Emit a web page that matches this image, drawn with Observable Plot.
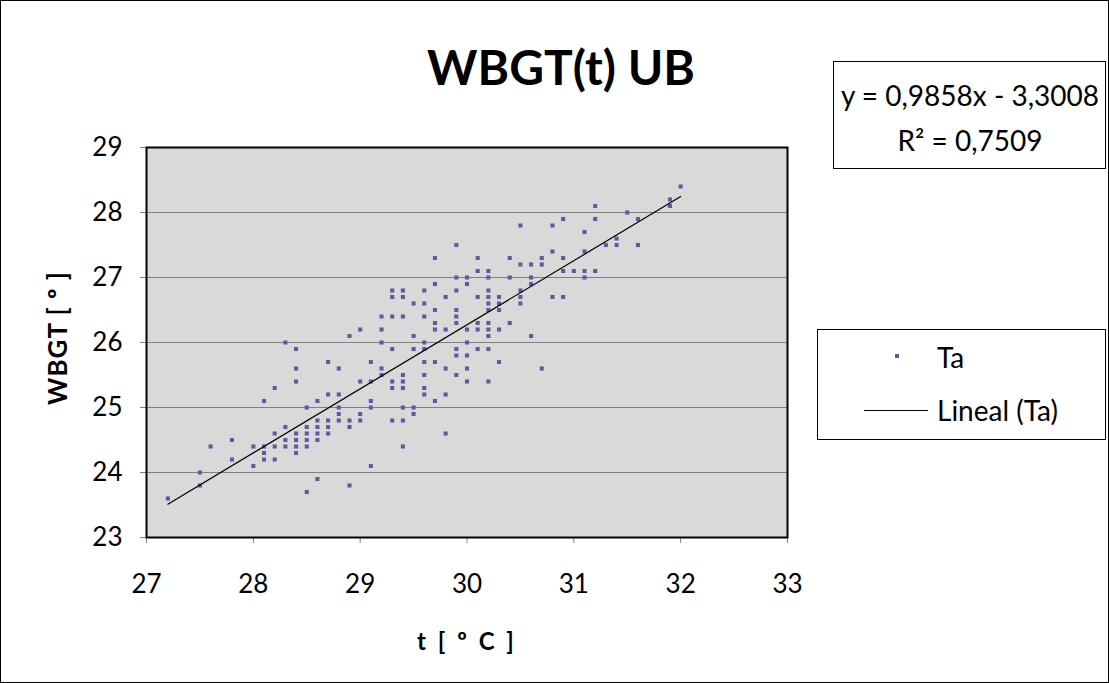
<!DOCTYPE html>
<html>
<head>
<meta charset="utf-8">
<script src="https://cdn.jsdelivr.net/npm/d3@7"></script>
<script src="https://cdn.jsdelivr.net/npm/@observablehq/plot@0.6"></script>
<style>
  html, body { margin: 0; padding: 0; background: #fff; }
  svg { display: block; }
</style>
</head>
<body>
<div id="chart"></div>
<script>
// Data: t [ºC] and WBGT [º]
const tValues = [
  27.2, 27.5, 27.5, 27.6, 27.8, 27.8, 28.0, 28.0,
  28.1, 28.1, 28.1, 28.1, 28.2, 28.2, 28.2, 28.2,
  28.3, 28.3, 28.3, 28.3, 28.4, 28.4, 28.4, 28.4, 28.4, 28.4, 28.4,
  28.5, 28.5, 28.5, 28.5, 28.5, 28.5,
  28.6, 28.6, 28.6, 28.6, 28.6, 28.6,
  28.7, 28.7, 28.7, 28.7, 28.7,
  28.8, 28.8, 28.8, 28.8, 28.8,
  28.9, 28.9, 28.9, 28.9,
  29.0, 29.0, 29.0, 29.0,
  29.1, 29.1, 29.1, 29.1, 29.1,
  29.2, 29.2, 29.2, 29.2, 29.2,
  29.3, 29.3, 29.3, 29.3, 29.3, 29.3, 29.3,
  29.4, 29.4, 29.4, 29.4, 29.4, 29.4, 29.4, 29.4, 29.4,
  29.5, 29.5, 29.5, 29.5, 29.5,
  29.6, 29.6, 29.6, 29.6, 29.6, 29.6, 29.6, 29.6, 29.6,
  29.7, 29.7, 29.7, 29.7, 29.7, 29.7, 29.7,
  29.8, 29.8, 29.8, 29.8, 29.8,
  29.9, 29.9, 29.9, 29.9, 29.9, 29.9, 29.9, 29.9, 29.9,
  30.0, 30.0, 30.0, 30.0, 30.0, 30.0, 30.0,
  30.1, 30.1, 30.1, 30.1, 30.1, 30.1,
  30.2, 30.2, 30.2, 30.2, 30.2, 30.2, 30.2, 30.2, 30.2, 30.2, 30.2,
  30.3, 30.3, 30.3, 30.3, 30.3,
  30.4, 30.4, 30.4,
  30.5, 30.5, 30.5, 30.5, 30.5,
  30.6, 30.6, 30.6, 30.6,
  30.7, 30.7, 30.7,
  30.8, 30.8, 30.8,
  30.9, 30.9, 30.9, 30.9,
  31.0,
  31.1, 31.1, 31.1, 31.1,
  31.2, 31.2, 31.2,
  31.3,
  31.4, 31.4,
  31.5,
  31.6, 31.6,
  31.9, 31.9,
  32.0
];
const wbgtValues = [
  23.6, 24.0, 23.8, 24.4, 24.5, 24.2, 24.4, 24.1,
  25.1, 24.4, 24.3, 24.2, 25.3, 24.6, 24.4, 24.2,
  26.0, 24.7, 24.5, 24.4, 25.9, 25.6, 25.4, 24.6, 24.5, 24.4, 24.3,
  25.0, 24.7, 24.6, 24.5, 24.4, 23.7,
  25.1, 24.8, 24.7, 24.6, 24.5, 23.9,
  25.7, 25.2, 24.8, 24.7, 24.6,
  25.6, 25.2, 25.0, 24.9, 24.8,
  26.1, 24.8, 24.7, 23.8,
  26.2, 25.4, 24.9, 24.8,
  25.7, 25.4, 25.1, 25.0, 24.1,
  26.4, 26.2, 26.0, 25.6, 25.5,
  26.8, 26.7, 26.4, 25.9, 25.4, 25.3, 24.8,
  26.8, 26.7, 26.4, 25.5, 25.4, 25.3, 25.0, 24.8, 24.4,
  26.6, 26.1, 25.9, 25.0, 24.9,
  26.8, 26.6, 26.4, 26.0, 25.9, 25.7, 25.5, 25.3, 25.2,
  27.3, 26.9, 26.5, 26.3, 26.2, 25.7, 25.1,
  26.7, 26.2, 25.6, 25.2, 24.6,
  27.5, 27.0, 26.8, 26.5, 26.4, 26.3, 25.9, 25.8, 25.5,
  27.0, 26.9, 26.2, 26.0, 25.8, 25.6, 25.4,
  27.3, 27.1, 26.7, 26.3, 26.2, 25.9,
  27.1, 27.0, 26.8, 26.7, 26.6, 26.5, 26.3, 26.2, 26.1, 25.9, 25.4,
  26.7, 26.6, 26.5, 26.2, 25.7,
  27.3, 27.0, 26.3,
  27.8, 27.2, 26.8, 26.7, 26.6,
  27.2, 27.0, 26.9, 26.1,
  27.3, 27.2, 25.6,
  27.8, 27.4, 26.7,
  27.9, 27.3, 27.1, 26.7,
  27.1,
  27.7, 27.4, 27.1, 27.0,
  28.1, 27.9, 27.1,
  27.5,
  27.6, 27.5,
  28.0,
  27.9, 27.5,
  28.2, 28.1,
  28.4
];
// Trend line coefficients (as printed on the chart)
const trendSlope = 0.9858;
const trendIntercept = -3.3008;
const equationLines = ["y = 0,9858x - 3,3008", "R² = 0,7509"];
const xTicks = [27, 28, 29, 30, 31, 32, 33];
const yTicks = [23, 24, 25, 26, 27, 28, 29];
const titleText = "WBGT(t) UB";
const xLabel = "t [ º C ]";
const yLabel = "WBGT [ º ]";
const legendLabels = ["Ta", "Lineal (Ta)"];

const points = tValues.map((t, i) => ({t, w: wbgtValues[i]}));
const [tMin, tMax] = d3.extent(tValues);
const trend = [tMin, tMax].map(t => ({t, w: trendSlope * t + trendIntercept}));

const FONT = "Lato, 'Open Sans', sans-serif";
const W = 1109, H = 683;
const dotColor = "#5b5ba0";
const fmt = d3.format("d");

const plot = Plot.plot({
  width: W,
  height: H,
  marginLeft: 146,
  marginRight: 322,
  marginTop: 147,
  marginBottom: 146,
  style: {fontFamily: FONT, fontSize: "26px", color: "#000", background: "#fff"},
  x: {domain: [27, 33], label: null},
  y: {domain: [23, 29], label: null},
  marks: [
    Plot.frame({fill: "#d9d9d9"}),
    Plot.ruleY(yTicks, {stroke: "#808080", strokeWidth: 1}),
    Plot.axisX({ticks: xTicks, tickFormat: fmt, tickSize: 6, tickPadding: 31, stroke: "#808080", fill: "#000", fontSize: 26}),
    Plot.axisY({ticks: yTicks, tickFormat: fmt, tickSize: 6, tickPadding: 18, stroke: "#808080", fill: "#000", fontSize: 26}),
    Plot.dot(points, {x: "t", y: "w", symbol: "square", r: 2.3, fill: dotColor, stroke: "none"}),
    Plot.line(trend, {x: "t", y: "w", stroke: "#000", strokeWidth: 1.2}),
    Plot.frame({stroke: "#000", strokeWidth: 2})
  ]
});

const svg = d3.select(plot);
// outer border
svg.append("rect").attr("x", 0.5).attr("y", 0.5).attr("width", W - 1).attr("height", H - 1)
  .attr("fill", "none").attr("stroke", "#000").attr("stroke-width", 1);

// title
svg.append("text").attr("x", 561).attr("y", 85).attr("text-anchor", "middle")
  .attr("font-family", FONT).attr("font-weight", "bold").attr("font-size", 48).text(titleText);

// axis labels
svg.append("text").attr("x", 467).attr("y", 650).attr("text-anchor", "middle")
  .attr("font-family", FONT).attr("font-weight", "bold").attr("font-size", 24)
  .attr("letter-spacing", 3).text(xLabel);
svg.append("text").attr("transform", "translate(67,338) rotate(-90)").attr("text-anchor", "middle")
  .attr("font-family", FONT).attr("font-weight", "bold").attr("font-size", 26)
  .attr("letter-spacing", 1).text(yLabel);

// equation box
svg.append("rect").attr("x", 833.5).attr("y", 61.5).attr("width", 272).attr("height", 107)
  .attr("fill", "#fff").attr("stroke", "#000").attr("stroke-width", 1);
svg.append("text").attr("x", 970).attr("y", 106).attr("text-anchor", "middle")
  .attr("font-family", FONT).attr("font-size", 28).text(equationLines[0]);
svg.append("text").attr("x", 970).attr("y", 151).attr("text-anchor", "middle")
  .attr("font-family", FONT).attr("font-size", 28).text(equationLines[1]);

// legend box
svg.append("rect").attr("x", 817.5).attr("y", 329.5).attr("width", 288).attr("height", 110)
  .attr("fill", "#fff").attr("stroke", "#000").attr("stroke-width", 1);
svg.append("rect").attr("x", 895).attr("y", 354).attr("width", 4).attr("height", 4).attr("fill", dotColor);
svg.append("text").attr("x", 937).attr("y", 368).attr("text-anchor", "start")
  .attr("font-family", FONT).attr("font-size", 28).text(legendLabels[0]);
svg.append("line").attr("x1", 864).attr("x2", 928).attr("y1", 410.5).attr("y2", 410.5)
  .attr("stroke", "#000").attr("stroke-width", 1);
svg.append("text").attr("x", 937).attr("y", 421).attr("text-anchor", "start")
  .attr("font-family", FONT).attr("font-size", 28).text(legendLabels[1]);

document.getElementById("chart").appendChild(plot);
</script>
</body>
</html>
